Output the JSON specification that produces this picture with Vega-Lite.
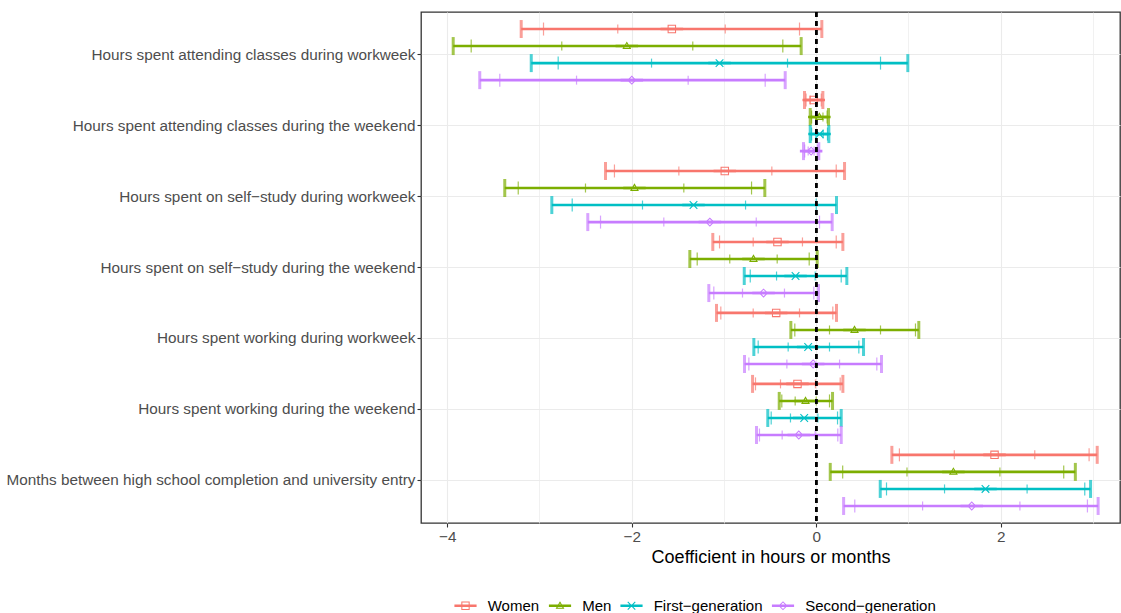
{
  "$schema": "https://vega.github.io/schema/vega-lite/v6.json",
  "width": 699,
  "height": 511,
  "autosize": {"type": "none"},
  "padding": {"left": 421, "top": 12, "right": 1, "bottom": 90},
  "background": "white",
  "config": {
    "font": "Liberation Sans",
    "view": {"stroke": "#333333", "strokeWidth": 1.3},
    "axis": {
      "domain": false,
      "gridColor": "#ebebeb",
      "gridWidth": 1.1,
      "tickColor": "#333333",
      "tickSize": 4,
      "tickWidth": 1.1,
      "labelColor": "#4d4d4d",
      "labelFontSize": 15.3,
      "labelFont": "Liberation Sans",
      "titleFont": "Liberation Sans"
    }
  },
  "data": {
    "values": [
      {"outcome": "Hours spent attending classes during workweek", "group": "Women", "est": -1.565, "olo": -3.198, "ohi": 0.061, "mlo": -2.956, "mhi": -0.181, "ilo": -2.151, "ihi": -0.986},
      {"outcome": "Hours spent attending classes during workweek", "group": "Men", "est": -2.053, "olo": -3.935, "ohi": -0.163, "mlo": -3.740, "mhi": -0.362, "ilo": -2.758, "ihi": -1.338},
      {"outcome": "Hours spent attending classes during workweek", "group": "First−generation", "est": -1.048, "olo": -3.089, "ohi": 0.993, "mlo": -2.797, "mhi": 0.697, "ilo": -1.785, "ihi": -0.311},
      {"outcome": "Hours spent attending classes during workweek", "group": "Second−generation", "est": -1.999, "olo": -3.647, "ohi": -0.336, "mlo": -3.430, "mhi": -0.553, "ilo": -2.598, "ihi": -1.388},

      {"outcome": "Hours spent attending classes during the weekend", "group": "Women", "est": -0.027, "olo": -0.127, "ohi": 0.072, "mlo": -0.11, "mhi": 0.055, "ilo": -0.065, "ihi": 0.011},
      {"outcome": "Hours spent attending classes during the weekend", "group": "Men", "est": 0.034, "olo": -0.065, "ohi": 0.133, "mlo": -0.05, "mhi": 0.118, "ilo": -0.005, "ihi": 0.073},
      {"outcome": "Hours spent attending classes during the weekend", "group": "First−generation", "est": 0.036, "olo": -0.065, "ohi": 0.137, "mlo": -0.05, "mhi": 0.122, "ilo": -0.004, "ihi": 0.076},
      {"outcome": "Hours spent attending classes during the weekend", "group": "Second−generation", "est": -0.055, "olo": -0.138, "ohi": 0.028, "mlo": -0.125, "mhi": 0.015, "ilo": -0.087, "ihi": -0.023},

      {"outcome": "Hours spent on self−study during workweek", "group": "Women", "est": -0.991, "olo": -2.284, "ohi": 0.307, "mlo": -2.187, "mhi": 0.217, "ilo": -1.489, "ihi": -0.481},
      {"outcome": "Hours spent on self−study during workweek", "group": "Men", "est": -1.970, "olo": -3.376, "ohi": -0.557, "mlo": -3.230, "mhi": -0.701, "ilo": -2.501, "ihi": -1.435},
      {"outcome": "Hours spent on self−study during workweek", "group": "First−generation", "est": -1.330, "olo": -2.866, "ohi": 0.220, "mlo": -2.645, "mhi": 0.000, "ilo": -1.883, "ihi": -0.766},
      {"outcome": "Hours spent on self−study during workweek", "group": "Second−generation", "est": -1.153, "olo": -2.476, "ohi": 0.173, "mlo": -2.338, "mhi": 0.036, "ilo": -1.652, "ihi": -0.650},

      {"outcome": "Hours spent on self−study during the weekend", "group": "Women", "est": -0.420, "olo": -1.121, "ohi": 0.289, "mlo": -1.048, "mhi": 0.217, "ilo": -0.683, "ihi": -0.149},
      {"outcome": "Hours spent on self−study during the weekend", "group": "Men", "est": -0.680, "olo": -1.370, "ohi": 0.011, "mlo": -1.290, "mhi": -0.076, "ilo": -0.937, "ihi": -0.423},
      {"outcome": "Hours spent on self−study during the weekend", "group": "First−generation", "est": -0.224, "olo": -0.780, "ohi": 0.332, "mlo": -0.715, "mhi": 0.271, "ilo": -0.430, "ihi": -0.011},
      {"outcome": "Hours spent on self−study during the weekend", "group": "Second−generation", "est": -0.571, "olo": -1.164, "ohi": 0.025, "mlo": -1.110, "mhi": -0.026, "ilo": -0.799, "ihi": -0.344},

      {"outcome": "Hours spent working during workweek", "group": "Women", "est": -0.434, "olo": -1.081, "ohi": 0.220, "mlo": -1.034, "mhi": 0.180, "ilo": -0.683, "ihi": -0.181},
      {"outcome": "Hours spent working during workweek", "group": "Men", "est": 0.415, "olo": -0.275, "ohi": 1.112, "mlo": -0.232, "mhi": 1.076, "ilo": 0.144, "ihi": 0.697},
      {"outcome": "Hours spent working during workweek", "group": "First−generation", "est": -0.087, "olo": -0.676, "ohi": 0.513, "mlo": -0.629, "mhi": 0.462, "ilo": -0.304, "ihi": 0.144},
      {"outcome": "Hours spent working during workweek", "group": "Second−generation", "est": -0.033, "olo": -0.777, "ohi": 0.708, "mlo": -0.730, "mhi": 0.657, "ilo": -0.318, "ihi": 0.253},

      {"outcome": "Hours spent working during the weekend", "group": "Women", "est": -0.203, "olo": -0.690, "ohi": 0.289, "mlo": -0.658, "mhi": 0.260, "ilo": -0.387, "ihi": -0.008},
      {"outcome": "Hours spent working during the weekend", "group": "Men", "est": -0.116, "olo": -0.401, "ohi": 0.177, "mlo": -0.373, "mhi": 0.144, "ilo": -0.228, "ihi": 0.000},
      {"outcome": "Hours spent working during the weekend", "group": "First−generation", "est": -0.130, "olo": -0.525, "ohi": 0.271, "mlo": -0.488, "mhi": 0.231, "ilo": -0.279, "ihi": 0.018},
      {"outcome": "Hours spent working during the weekend", "group": "Second−generation", "est": -0.189, "olo": -0.647, "ohi": 0.271, "mlo": -0.615, "mhi": 0.234, "ilo": -0.369, "ihi": -0.011},

      {"outcome": "Months between high school completion and university entry", "group": "Women", "est": 1.933, "olo": 0.820, "ohi": 3.046, "mlo": 0.902, "mhi": 2.958, "ilo": 1.497, "ihi": 2.369},
      {"outcome": "Months between high school completion and university entry", "group": "Men", "est": 1.487, "olo": 0.152, "ohi": 2.809, "mlo": 0.287, "mhi": 2.683, "ilo": 0.984, "ihi": 1.991},
      {"outcome": "Months between high school completion and university entry", "group": "First−generation", "est": 1.835, "olo": 0.694, "ohi": 2.974, "mlo": 0.762, "mhi": 2.911, "ilo": 1.391, "ihi": 2.286},
      {"outcome": "Months between high school completion and university entry", "group": "Second−generation", "est": 1.686, "olo": 0.297, "ohi": 3.056, "mlo": 0.418, "mhi": 2.940, "ilo": 1.153, "ihi": 2.208}
    ]
  },
  "encoding": {
    "y": {
      "field": "outcome",
      "type": "nominal",
      "sort": [
        "Hours spent attending classes during workweek",
        "Hours spent attending classes during the weekend",
        "Hours spent on self−study during workweek",
        "Hours spent on self−study during the weekend",
        "Hours spent working during workweek",
        "Hours spent working during the weekend",
        "Months between high school completion and university entry"
      ],
      "scale": {"paddingInner": 0, "paddingOuter": 0.1},
      "axis": {"title": null, "grid": true, "labelPadding": 2, "labelLimit": 0, "bandPosition": 0.5}
    },
    "yOffset": {
      "field": "group",
      "type": "nominal",
      "sort": ["Women", "Men", "First−generation", "Second−generation"],
      "scale": {"paddingInner": 0, "paddingOuter": 0.083}
    }
  },
  "layer": [
    {
      "mark": {"type": "rule", "strokeWidth": 2.6},
      "encoding": {
        "x": {
          "field": "olo",
          "type": "quantitative",
          "scale": {"domain": [-4.284, 3.293], "nice": false, "zero": false},
          "axis": {
            "title": "Coefficient in hours or months",
            "values": [-4, -3, -2, -1, 0, 1, 2, 3],
            "format": "d",
            "labelExpr": "datum.value % 2 === 0 ? datum.label : ''",
            "tickOpacity": {"condition": {"test": "datum.value % 2 !== 0", "value": 0}, "value": 1},
            "gridWidth": {"condition": {"test": "datum.value % 2 !== 0", "value": 0.7}, "value": 1.1},
            "grid": true,
            "labelPadding": 2,
            "titleFontSize": 18,
            "titleColor": "black",
            "titleFontWeight": "normal",
            "titlePadding": 4
          }
        },
        "x2": {"field": "ohi"},
        "stroke": {
          "field": "group",
          "type": "nominal",
          "scale": {"domain": ["Second−generation", "First−generation", "Men", "Women"], "range": ["#C77CFF", "#00BFC4", "#7CAE00", "#F8766D"]},
          "legend": null
        }
      }
    },
    {
      "transform": [{"fold": ["olo", "ohi"], "as": ["bound", "value"]}],
      "mark": {"type": "tick", "size": 18, "thickness": 3},
      "encoding": {
        "x": {"field": "value", "type": "quantitative"},
        "fill": {
          "field": "group",
          "type": "nominal",
          "scale": {"domain": ["Men", "Women", "Second−generation", "First−generation"], "range": ["#7CAE00", "#F8766D", "#C77CFF", "#00BFC4"]},
          "legend": null
        }
      }
    },
    {
      "transform": [{"fold": ["mlo", "mhi"], "as": ["bound", "value"]}],
      "mark": {"type": "tick", "size": 13, "thickness": 1.2},
      "encoding": {
        "x": {"field": "value", "type": "quantitative"},
        "fill": {"field": "group", "type": "nominal", "legend": null}
      }
    },
    {
      "transform": [{"fold": ["ilo", "ihi"], "as": ["bound", "value"]}],
      "mark": {"type": "tick", "size": 9, "thickness": 1.2},
      "encoding": {
        "x": {"field": "value", "type": "quantitative"},
        "fill": {"field": "group", "type": "nominal", "legend": null}
      }
    },
    {
      "mark": {"type": "point", "filled": true, "opacity": 1, "size": 72, "strokeWidth": 0},
      "encoding": {
        "x": {"field": "est", "type": "quantitative"},
        "color": {
          "field": "group",
          "type": "nominal",
          "scale": {"domain": ["Women", "Men", "First−generation", "Second−generation"], "range": ["#F8766D", "#7CAE00", "#00BFC4", "#C77CFF"]},
          "legend": {"orient": "none", "legendX": 37, "legendY": 586, "direction": "horizontal", "title": null, "labelFontSize": 15, "labelColor": "black", "labelFont": "Liberation Sans", "symbolSize": 70, "symbolStrokeWidth": 0, "labelOffset": 14.7, "columnPadding": 8.5, "symbolOpacity": 1}
        },
        "shape": {
          "field": "group",
          "type": "nominal",
          "scale": {
            "domain": ["Women", "Men", "First−generation", "Second−generation"],
            "range": [
              "M-1,-1H1V1H-1ZM-0.75,-0.75V0.75H0.75V-0.75ZM-2.65,-0.3H2.65V0.3H-2.65Z",
              "M0,-1.1L1.05,0.7L-1.05,0.7ZM0,-0.6L-0.61,0.45L0.61,0.45ZM-2.65,-0.3H2.65V0.3H-2.65Z",
              "M-0.81,-0.99L0.99,0.81L0.81,0.99L-0.99,-0.81ZM0.99,-0.81L-0.81,0.99L-0.99,0.81L0.81,-0.99ZM-2.65,-0.3H2.65V0.3H-2.65Z",
              "M0,-1.1L1.1,0L0,1.1L-1.1,0ZM0,-0.75L-0.75,0L0,0.75L0.75,0ZM-2.65,-0.3H2.65V0.3H-2.65Z"
            ]
          },
          "legend": {"orient": "none", "legendX": 37, "legendY": 586, "direction": "horizontal", "title": null, "labelFontSize": 15, "labelColor": "black", "labelFont": "Liberation Sans", "symbolSize": 70, "symbolStrokeWidth": 0, "labelOffset": 14.7, "columnPadding": 8.5, "symbolOpacity": 1}
        }
      }
    },
    {
      "mark": {"type": "rule", "strokeDash": [5, 4], "strokeWidth": 1.7, "color": "black"},
      "encoding": {"x": {"datum": 0}, "y": null, "yOffset": null}
    }
  ]
}
